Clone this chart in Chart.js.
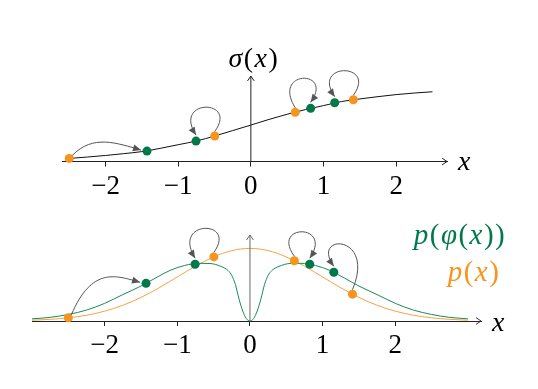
<!DOCTYPE html>
<html>
<head>
<meta charset="utf-8">
<script src="https://cdn.jsdelivr.net/npm/chart.js@4.4.1/dist/chart.umd.min.js"></script>
<style>
  html, body { margin: 0; padding: 0; background: #fff; }
  #wrap { position: relative; width: 538px; height: 389px; }
  canvas { position: absolute; left: 0; }
  #top { top: 0; }
  #bottom { top: 200px; }
</style>
</head>
<body>
<div id="wrap">
  <canvas id="top" width="538" height="200"></canvas>
  <canvas id="bottom" width="538" height="189"></canvas>
</div>
<script>
// tick labels on both x axes
const tickValues = [-2, -1, 0, 1, 2];

// top panel: sigma(x)
const sigX = [-2.5, -2.25, -2, -1.75, -1.5, -1.25, -1, -0.75, -0.5, -0.25, 0, 0.25, 0.5, 0.75, 1, 1.25, 1.5, 1.75, 2, 2.25, 2.5];
const sigY = [0.075, 0.093, 0.113, 0.136, 0.162, 0.203, 0.25, 0.297, 0.36, 0.43, 0.5, 0.572, 0.638, 0.697, 0.748, 0.8, 0.833, 0.862, 0.888, 0.908, 0.924];

// bottom panel: p(x) (orange)
const pX = [-3, -2.75, -2.5, -2.25, -2, -1.75, -1.5, -1.25, -1, -0.75, -0.5, -0.25, 0, 0.25, 0.5, 0.75, 1, 1.25, 1.5, 1.75, 2, 2.25, 2.5, 2.75, 3];
const pY = [0.0044, 0.0091, 0.0175, 0.0317, 0.054, 0.0863, 0.1295, 0.1826, 0.242, 0.3011, 0.3521, 0.3867, 0.3989, 0.3867, 0.3521, 0.3011, 0.242, 0.1826, 0.1295, 0.0863, 0.054, 0.0317, 0.0175, 0.0091, 0.0044];

// bottom panel: p(phi(x)) (green)
const qX = [-3, -2.75, -2.5, -2.25, -2, -1.75, -1.5, -1.3, -1.1, -0.9, -0.7, -0.55, -0.4, -0.3, -0.25, -0.2, -0.15, -0.1, -0.05, 0,
            0.05, 0.1, 0.15, 0.2, 0.25, 0.3, 0.4, 0.55, 0.7, 0.9, 1.1, 1.3, 1.5, 1.75, 2, 2.25, 2.5, 2.75, 3];
const qY = [0.012, 0.02, 0.036, 0.06, 0.097, 0.145, 0.192, 0.236, 0.278, 0.305, 0.317, 0.316, 0.3, 0.277, 0.25, 0.2, 0.12, 0.055, 0.013, 0,
            0.013, 0.055, 0.12, 0.2, 0.25, 0.277, 0.3, 0.316, 0.317, 0.305, 0.278, 0.236, 0.192, 0.145, 0.097, 0.06, 0.036, 0.02, 0.012];

// the moved points: orange x -> green phi(x)
const orangeX = [-2.5, -0.497, 0.611, 1.411];
const greenX = [-1.43, -0.755, 0.823, 1.154];
const orangeSig = [0.075, 0.361, 0.662, 0.823];
const greenSig = [0.169, 0.296, 0.713, 0.785];
const orangeP = [0.0175, 0.3523, 0.3309, 0.1476];
const greenP = [0.207, 0.312, 0.312, 0.268];
const linkKind = ['arc', 'loop', 'loop', 'loop'];

const GREEN = '#00784a';
const GREEN_LINE = '#158a5a';
const ORANGE = '#f7941d';
const ORANGE_LINE = '#f9a042';
const LINK = '#555555';
const SERIF = '"Liberation Serif", "DejaVu Serif", serif';

function pts(xs, ys) {
  return xs.map((x, i) => ({ x: x, y: ys[i] }));
}

function mathText(ctx, parts, cx, cy, size, color) {
  ctx.save();
  ctx.fillStyle = color;
  ctx.textBaseline = 'middle';
  ctx.textAlign = 'left';
  let w = 0;
  const widths = parts.map(p => {
    ctx.font = (p[1] ? 'italic ' : '') + size + 'px ' + SERIF;
    const m = ctx.measureText(p[0]).width + 1.5;
    w += m;
    return m;
  });
  let x = cx - w / 2;
  parts.forEach((p, i) => {
    ctx.font = (p[1] ? 'italic ' : '') + size + 'px ' + SERIF;
    ctx.fillText(p[0], x, cy);
    x += widths[i];
  });
  ctx.restore();
}

function chevron(ctx, x, y, ang) {
  ctx.beginPath();
  ctx.moveTo(x - 6 * Math.cos(ang - 0.6), y - 6 * Math.sin(ang - 0.6));
  ctx.lineTo(x, y);
  ctx.lineTo(x - 6 * Math.cos(ang + 0.6), y - 6 * Math.sin(ang + 0.6));
  ctx.stroke();
}

function drawLinks(chart, ox, oy, gx, gy) {
  const { ctx, scales: { x, y } } = chart;
  ctx.save();
  ctx.strokeStyle = LINK;
  ctx.fillStyle = LINK;
  ctx.lineWidth = 1;
  linkKind.forEach((kind, i) => {
    const sx = x.getPixelForValue(ox[i]), sy = y.getPixelForValue(oy[i]);
    const ex = x.getPixelForValue(gx[i]), ey = y.getPixelForValue(gy[i]);
    let S, E, c1, c2;
    if (kind === 'arc') {
      S = [sx + 3, sy - 3];
      E = [ex - 6, ey - 1];
      const dx = E[0] - S[0];
      const top = Math.min(S[1], E[1]);
      c1 = [S[0] + 0.3 * dx, top - 16];
      c2 = [E[0] - 0.35 * dx, top - 7];
    } else {
      const dir = Math.sign(ex - sx);
      S = [sx, sy - 4.5];
      E = [ex, ey - 6];
      const top = Math.min(S[1], E[1]);
      c1 = [S[0] - dir * 24, top - 33];
      c2 = [E[0] + dir * 24, top - 33];
    }
    ctx.beginPath();
    ctx.moveTo(S[0], S[1]);
    ctx.bezierCurveTo(c1[0], c1[1], c2[0], c2[1], E[0], E[1]);
    ctx.stroke();
    const ang = Math.atan2(E[1] - c2[1], E[0] - c2[0]);
    ctx.beginPath();
    ctx.moveTo(E[0], E[1]);
    ctx.lineTo(E[0] - 8 * Math.cos(ang) + 3.5 * Math.sin(ang), E[1] - 8 * Math.sin(ang) - 3.5 * Math.cos(ang));
    ctx.lineTo(E[0] - 8 * Math.cos(ang) - 3.5 * Math.sin(ang), E[1] - 8 * Math.sin(ang) + 3.5 * Math.cos(ang));
    ctx.closePath();
    ctx.fill();
  });
  ctx.restore();
}

function axesDecor(chart, xColor, yColor) {
  const { ctx, chartArea: a, scales: { x } } = chart;
  const x0 = x.getPixelForValue(0);
  ctx.save();
  ctx.lineWidth = 1;
  ctx.strokeStyle = yColor;
  ctx.beginPath();
  ctx.moveTo(x0, a.bottom);
  ctx.lineTo(x0, a.top);
  ctx.stroke();
  chevron(ctx, x0, a.top, -Math.PI / 2);
  ctx.strokeStyle = xColor;
  chevron(ctx, a.right, a.bottom, 0);
  ctx.restore();
}

const topDecor = {
  id: 'topDecor',
  afterDatasetsDraw(chart) {
    const a = chart.chartArea;
    axesDecor(chart, '#222', '#222');
    drawLinks(chart, orangeX, orangeSig, greenX, greenSig);
    mathText(chart.ctx, [['σ', 1], ['(', 0], ['x', 1], [')', 0]], chart.scales.x.getPixelForValue(0) + 3, a.top - 16, 28, '#000');
    mathText(chart.ctx, [['x', 1]], a.right + 18, a.bottom + 1, 28, '#000');
  }
};

const bottomDecor = {
  id: 'bottomDecor',
  afterDatasetsDraw(chart) {
    const a = chart.chartArea;
    axesDecor(chart, '#333', '#666');
    drawLinks(chart, orangeX, orangeP, greenX, greenP);
    mathText(chart.ctx, [['x', 1]], a.right + 18, a.bottom + 3, 28, '#000');
    mathText(chart.ctx, [['p', 1], ['(', 0], ['φ', 1], ['(', 0], ['x', 1], [')', 0], [')', 0]], 460, 36, 29, GREEN);
    mathText(chart.ctx, [['p', 1], ['(', 0], ['x', 1], [')', 0]], 474, 73, 29, ORANGE);
  }
};

function xScale(min, max, axisH) {
  return {
    type: 'linear', min: min, max: max,
    afterBuildTicks: s => { s.ticks = tickValues.map(v => ({ value: v })); },
    afterFit: s => { s.height = axisH; },
    grid: { drawOnChartArea: false, drawTicks: true, tickLength: 5, color: '#222', lineWidth: 1 },
    border: { display: true, color: '#222', width: 1 },
    ticks: {
      autoSkip: false, maxRotation: 0, padding: 4, color: '#000',
      font: { family: SERIF, size: 27 },
      callback: v => (v < 0 ? '\u2212' + Math.abs(v) : String(v))
    }
  };
}

function pointSet(xs, ys, color) {
  return { data: pts(xs, ys), showLine: false, pointRadius: 4.5, pointBorderWidth: 0, pointBackgroundColor: color, clip: false };
}

function curveSet(xs, ys, color) {
  return { data: pts(xs, ys), borderColor: color, borderWidth: 1, pointRadius: 0, cubicInterpolationMode: 'monotone', clip: false };
}

new Chart(document.getElementById('top'), {
  type: 'line',
  data: {
    datasets: [
      pointSet(orangeX, orangeSig, ORANGE),
      pointSet(greenX, greenSig, GREEN),
      curveSet(sigX, sigY, '#111')
    ]
  },
  options: {
    responsive: false, animation: false,
    layout: { padding: { left: 62, right: 91, top: 76, bottom: 0 } },
    plugins: { legend: { display: false }, tooltip: { enabled: false } },
    scales: {
      x: xScale(-2.6, 2.7, 38.5),
      y: { display: false, min: 0.036, max: 1.125 }
    }
  },
  plugins: [topDecor]
});

new Chart(document.getElementById('bottom'), {
  type: 'line',
  data: {
    datasets: [
      pointSet(orangeX, orangeP, ORANGE),
      pointSet(greenX, greenP, GREEN),
      curveSet(qX, qY, GREEN_LINE),
      curveSet(pX, pY, ORANGE_LINE)
    ]
  },
  options: {
    responsive: false, animation: false,
    layout: { padding: { left: 32, right: 57, top: 35, bottom: 0 } },
    plugins: { legend: { display: false }, tooltip: { enabled: false } },
    scales: {
      x: xScale(-3, 3.18, 68),
      y: { display: false, min: 0, max: 0.4725 }
    }
  },
  plugins: [bottomDecor]
});
</script>
</body>
</html>
